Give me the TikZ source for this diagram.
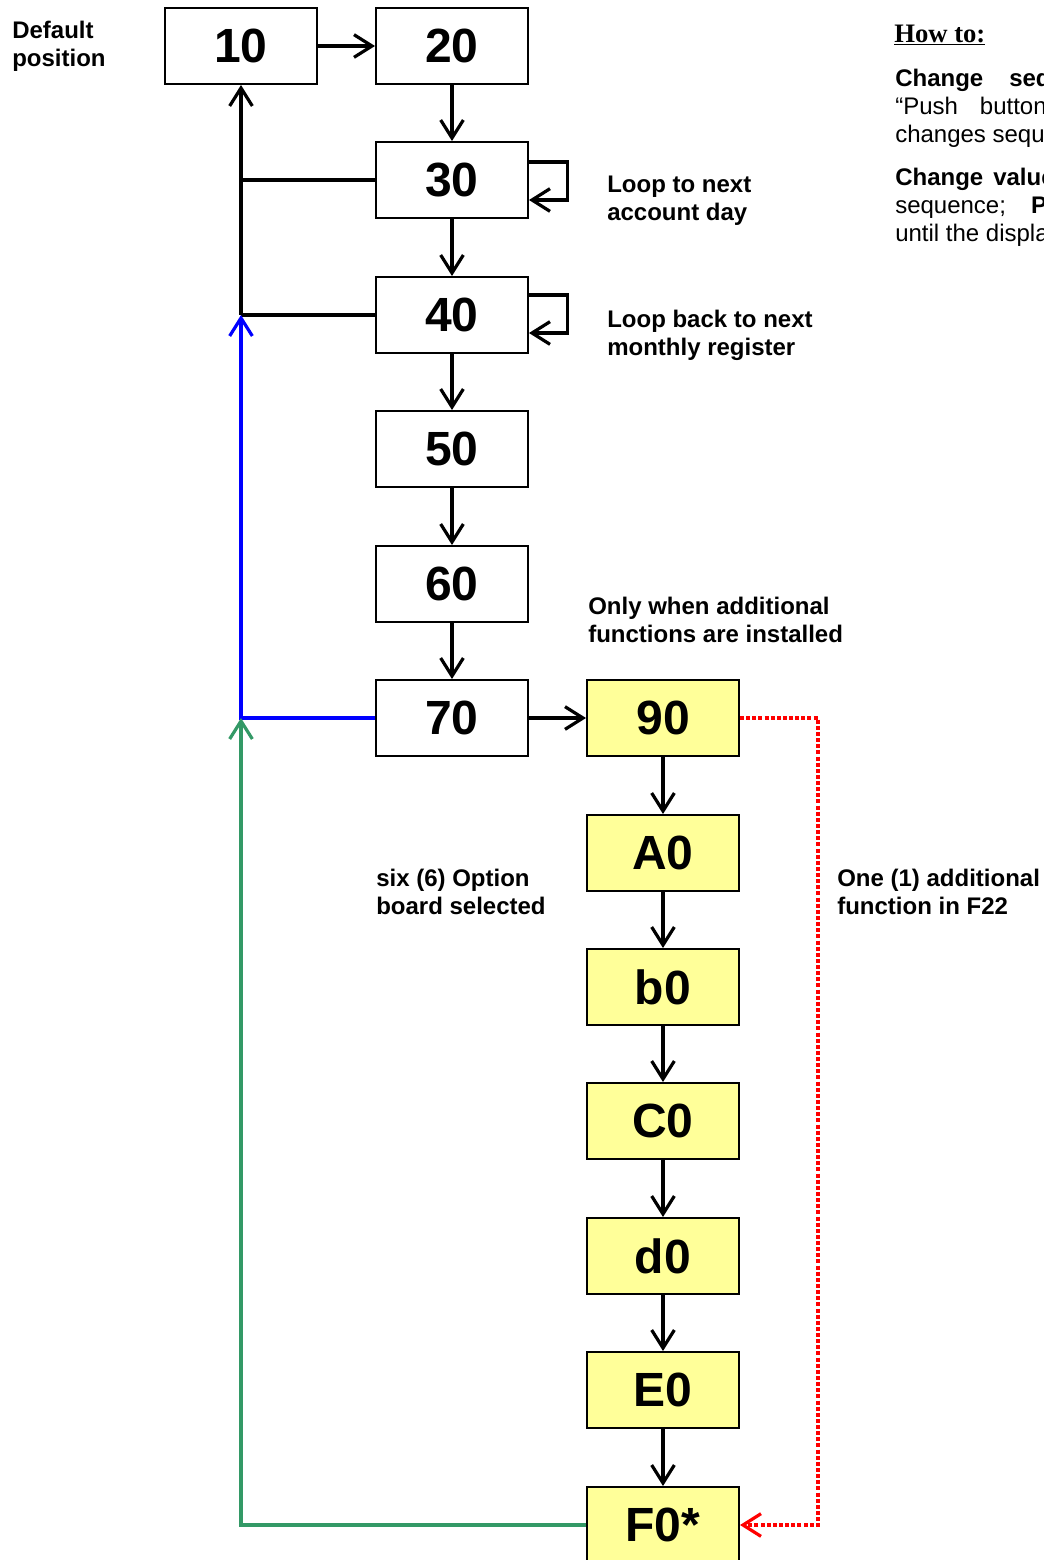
\documentclass[tikz,border=0pt]{standalone}
\usepackage{fontspec}
\setmainfont{Liberation Sans}
\newfontfamily\serifhead{Liberation Serif}
\usetikzlibrary{arrows.meta}
\definecolor{boxyellow}{HTML}{FFFF99}
\definecolor{loopblue}{HTML}{0000FF}
\definecolor{loopgreen}{HTML}{339966}
\definecolor{optred}{HTML}{FF0000}
\begin{document}
\begin{tikzpicture}[x=0.75pt, y=-0.75pt,
  codebox/.style={rectangle, draw=black, line width=1.5pt, minimum width=114pt, minimum height=57pt, inner sep=0pt, font=\fontsize{36}{40}\selectfont\bfseries},
  optbox/.style={codebox, fill=boxyellow},
  note/.style={align=left, anchor=west, inner sep=0pt, font=\fontsize{18}{21}\selectfont\bfseries},
  howtext/.style={align=left, anchor=west, inner sep=0pt, font=\fontsize{18}{21}\selectfont},
  link/.style={line width=2.5pt, -{Straight Barb[length=13.5pt, width=17pt, line width=2.4pt]}}]
\useasboundingbox (0,0) rectangle (1044,1560);
\clip (0,0) rectangle (1044,1560);
% display codes
\node[codebox] (n10) at (241,46) {10};
\foreach \nm/\y in {20/46, 30/180, 40/315, 50/449, 60/584, 70/718}
  \node[codebox] (n\nm) at (452,\y) {\nm};
\foreach \nm/\lbl/\y in {o90/90/718, oA/A0/853, ob/b0/987, oC/C0/1121, od/d0/1256, oE/E0/1390, oF/F0*/1525}
  \node[optbox] (\nm) at (663,\y) {\lbl};
% sequence arrows
\draw[link] (n10) -- (n20);
\draw[link] (n70) -- (o90);
\foreach \a/\b in {n20/n30, n30/n40, n40/n50, n50/n60, n60/n70, o90/oA, oA/ob, ob/oC, oC/od, od/oE, oE/oF}
  \draw[link] (\a) -- (\b);
% loops on 30 and 40
\draw[link] ([yshift=13.5pt]n30.east) -- ++(29pt,0) -- ++(0,-28.5pt) -- ([yshift=-15pt]n30.east);
\draw[link] ([yshift=15pt]n40.east) -- ++(29pt,0) -- ++(0,-28.5pt) -- ([yshift=-13.5pt]n40.east);
% return rails
\coordinate (j30) at (241,180);
\coordinate (j40) at (241,315);
\coordinate (j70) at (241,718);
\coordinate (jF) at (241,1525);
\draw[line width=2.5pt] (n30.west) -- (j30);
\draw[line width=2.5pt] (n40.west) -- (j40);
\draw[link] (j40) -- (n10.south);
\draw[link, loopblue] (n70.west) -- (j70) -- (j40);
\draw[link, loopgreen] (oF.west) -- (jF) -- (j70);
\draw[link, optred, dash pattern=on 3pt off 1.6pt] (o90.east) -- ++(58.5pt,0) |- (oF.east);
% labels
\node[note] (dflt) at (12,46) {Default\\position};
\node[note] (loopday) at (607,201) {Loop to next\\account day};
\node[note] (loopreg) at (607,335.5) {Loop back to next\\monthly register};
\node[note] (addfn) at (588,620) {Only when additional\\functions are installed};
\node[note] (sixopt) at (376,892) {six (6) Option\\board selected};
\node[note] (onefn) at (837,892) {One (1) additional\\function in F22};
% how to
\node[anchor=west, inner sep=0pt, font=\serifhead\fontsize{20}{24}\selectfont\bfseries] (howto) at (894,35) {\underline{How to:}};
\node[howtext] (howseq) at (895,108) {\textbf{Change}\hspace{19.5pt}\textbf{sequence}\\“Push\hspace{16.5pt}button\\changes sequence};
\node[howtext] (howval) at (895,207) {\textbf{Change}\hspace{7.5pt}\textbf{value}\\sequence;\hspace{18.75pt}\textbf{Push}\\until the display};
\end{tikzpicture}
\end{document}
